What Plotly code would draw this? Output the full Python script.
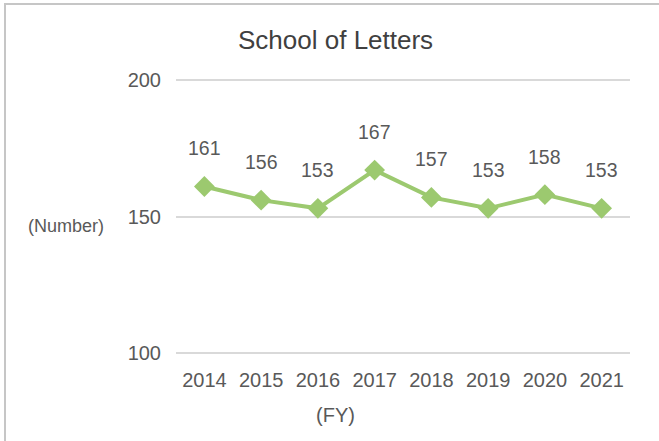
import plotly.graph_objects as go

years = ["2014", "2015", "2016", "2017", "2018", "2019", "2020", "2021"]
values = [161, 156, 153, 167, 157, 153, 158, 153]
y_ticks = [100, 150, 200]

TXT = "#595959"
GREEN = "#9CC96F"
FONT = "Liberation Sans, Arial, sans-serif"

W, H = 659, 441
# plot area in pixels: x 175..630, y 80 (=200) .. 353 (=100); pad y-range slightly
Y0, Y1 = 99.6, 200.4
top_px, bot_px = 80, 353
ppu = (bot_px - top_px) / 100.0
T = round(top_px - (Y1 - 200) * ppu)
B = H - round(bot_px + (100 - Y0) * ppu)
L, R = 176, W - 630
pw, ph = W - L - R, H - T - B

xpos = list(range(len(years)))

fig = go.Figure()
fig.add_trace(go.Scatter(
    x=xpos, y=values, mode="lines+markers",
    line=dict(color=GREEN, width=4),
    marker=dict(symbol="diamond", size=16, color=GREEN),
    hoverinfo="skip",
))

for xi, v in zip(xpos, values):
    fig.add_annotation(x=xi, y=v, xref="x", yref="y", text=str(v), showarrow=False,
                       yshift=38, xanchor="center", yanchor="middle",
                       font=dict(family=FONT, size=19.5, color=TXT))

def px_x(p):
    return (p - L) / pw

def px_y(p):
    return 1 - (p - T) / ph

fig.add_shape(type="rect", xref="paper", yref="paper",
              x0=px_x(5), x1=px_x(720), y0=px_y(4), y1=px_y(520),
              line=dict(color="#C6C6C6", width=2), layer="below")

for txt, x, y, s, c in [("School of Letters", 335, 40, 26, "#404040"),
                        ("(Number)", 66, 226, 18, TXT),
                        ("(FY)", 335, 415, 20, TXT)]:
    fig.add_annotation(xref="paper", yref="paper", x=px_x(x), y=px_y(y),
                       xanchor="center", yanchor="middle",
                       text=txt, showarrow=False,
                       font=dict(family=FONT, size=s, color=c))

fig.update_layout(
    width=W, height=H,
    margin=dict(l=L, r=R, t=T, b=B),
    paper_bgcolor="white", plot_bgcolor="white",
    showlegend=False,
    font=dict(family=FONT, size=20, color=TXT),
)
fig.update_xaxes(range=[-0.5, len(years) - 0.5], tickvals=xpos, ticktext=years,
                 showgrid=False, zeroline=False, showline=False,
                 ticks="", ticklabelstandoff=12, tickfont=dict(size=20, color=TXT))
fig.update_yaxes(range=[Y0, Y1], tickvals=y_ticks, showgrid=True, gridcolor="#D9D9D9",
                 gridwidth=2, zeroline=False, showline=False, ticks="",
                 ticklabelstandoff=14, tickfont=dict(size=20, color=TXT))

fig.write_html("out.html", config={"displayModeBar": False},
               post_script="document.body.style.margin='0';document.body.style.overflow='hidden';")
